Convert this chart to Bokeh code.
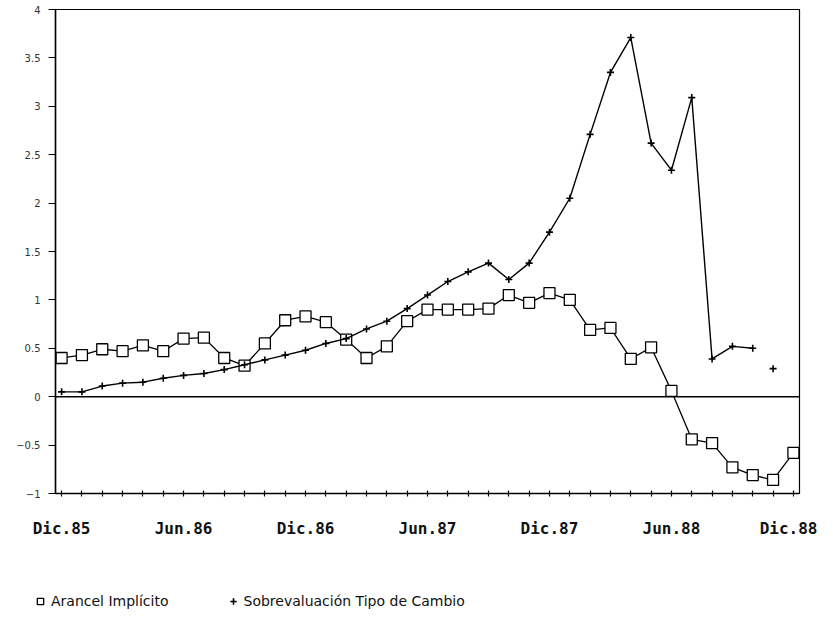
from bokeh.plotting import figure
from bokeh.layouts import column
from bokeh.models import Range1d, FixedTicker, Span, Legend, LegendItem
from bokeh.embed import file_html
from bokeh.resources import INLINE

# months from Dic.85 (0) to Dic.88 (36)
months = list(range(37))
tick_positions = [0, 6, 12, 18, 24, 30, 36]
tick_labels = ["Dic.85", "Jun.86", "Dic.86", "Jun.87", "Dic.87", "Jun.88", "Dic.88"]

arancel = [0.40, 0.43, 0.49, 0.47, 0.53, 0.47, 0.60, 0.61, 0.40, 0.32,
           0.55, 0.79, 0.83, 0.77, 0.59, 0.40, 0.52, 0.78, 0.90, 0.90,
           0.90, 0.91, 1.05, 0.97, 1.07, 1.00, 0.69, 0.71, 0.39, 0.51,
           0.06, -0.44, -0.48, -0.73, -0.81, -0.86, -0.58]

sobre = [0.05, 0.05, 0.11, 0.14, 0.15, 0.19, 0.22, 0.24, 0.28, 0.33,
         0.38, 0.43, 0.48, 0.55, 0.60, 0.70, 0.78, 0.91, 1.05, 1.19,
         1.29, 1.38, 1.21, 1.38, 1.70, 2.05, 2.71, 3.35, 3.71, 2.62,
         2.34, 3.09, 0.39, 0.52, 0.50, 0.29, None]

series_names = ["Arancel Implícito", "Sobrevaluación Tipo de Cambio"]

p = figure(width=817, height=550, output_backend="svg", toolbar_location=None,
           x_range=Range1d(-0.3, 36.3), y_range=Range1d(-1, 4))
p.min_border_left = 55
p.min_border_right = 18
p.min_border_top = 9
p.min_border_bottom = 57
p.grid.visible = False
p.outline_line_color = "black"
p.outline_line_width = 1.2
p.background_fill_color = "white"
p.border_fill_color = "white"

# x axis
p.xaxis.ticker = FixedTicker(ticks=months)
p.xaxis.major_label_overrides = {m: "" for m in months}
p.xaxis.major_label_overrides.update({t: l for t, l in zip(tick_positions, tick_labels)})
p.xaxis.major_label_text_font = "DejaVu Sans Mono"
p.xaxis.major_label_text_font_style = "bold"
p.xaxis.major_label_text_font_size = "16px"
p.xaxis.major_label_text_color = "#111111"
p.xaxis.major_label_standoff = 22
p.xaxis.major_tick_in = 3
p.xaxis.major_tick_out = 3
p.xaxis.minor_tick_line_color = None
p.xaxis.axis_line_width = 1.5
p.xaxis.major_tick_line_width = 1.2

# y axis
p.yaxis.ticker = FixedTicker(ticks=[-1, -0.5, 0, 0.5, 1, 1.5, 2, 2.5, 3, 3.5, 4])
p.yaxis.major_label_text_font = "DejaVu Sans"
p.yaxis.major_label_text_font_size = "10px"
p.yaxis.major_label_text_color = "#333333"
p.yaxis.major_tick_in = 0
p.yaxis.major_tick_out = 7
p.yaxis.minor_tick_line_color = None
p.yaxis.major_label_standoff = 8
p.yaxis.axis_line_width = 1.5

# zero line
p.add_layout(Span(location=0, dimension="width", line_color="black", line_width=1.5))

# Arancel implicito
xa = months
p.line(xa, arancel, line_color="black", line_width=1.3)
p.scatter(xa, arancel, marker="square", size=11, fill_color="white",
          line_color="black", line_width=1.3)

# Sobrevaluacion: connected through Oct.88, isolated last reading
conn_x = [m for m, v in zip(months, sobre) if v is not None][:-1]
conn_y = [v for v in sobre if v is not None][:-1]
pts_x = [m for m, v in zip(months, sobre) if v is not None]
pts_y = [v for v in sobre if v is not None]
p.line(conn_x, conn_y, line_color="black", line_width=1.4)
p.scatter(pts_x, pts_y, marker="cross", size=7, line_color="black", line_width=1.6)

# legend strip below the chart (hidden copies of the series supply the key glyphs)
lg = figure(width=817, height=73, output_backend="svg", toolbar_location=None,
            x_range=Range1d(-0.3, 36.3), y_range=Range1d(-1, 4),
            x_axis_location=None, y_axis_location=None,
            min_border_left=0, min_border_right=0, min_border_top=0, min_border_bottom=0)
lg.grid.visible = False
lg.outline_line_color = None
legend_x = 0
try:
    lg.frame_align = False
    legend_x = 32
except Exception:
    legend_x = 0

g1 = lg.scatter(xa, arancel, marker="square", size=13, fill_color="white",
                line_color="black", line_width=1.3, visible=False)
g2 = lg.scatter(pts_x, pts_y, marker="cross", size=13, line_color="black",
                line_width=1.6, visible=False)
legend = Legend(items=[LegendItem(label=series_names[0], renderers=[g1]),
                       LegendItem(label=series_names[1], renderers=[g2])],
                orientation="horizontal", location=(legend_x, 14),
                label_text_font="DejaVu Sans", label_text_font_size="14px",
                label_text_color="#111111", glyph_width=16, glyph_height=16,
                label_standoff=3, spacing=56, padding=0, margin=0,
                inactive_fill_alpha=0,
                border_line_color=None, background_fill_alpha=0)
lg.add_layout(legend, "center")

layout = column(p, lg, spacing=0)
open("out.html", "w").write(file_html(layout, INLINE))
